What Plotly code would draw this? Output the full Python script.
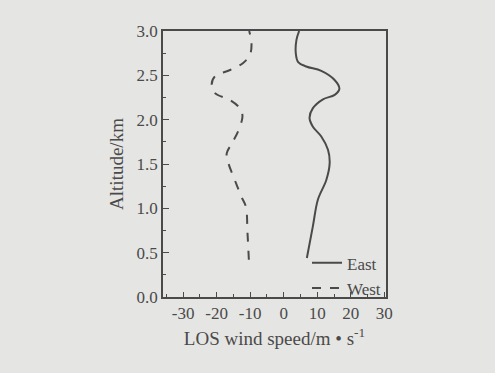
import plotly.graph_objects as go

# Data (altitude in km, LOS wind speed in m/s)
east_alt = [0.44, 0.80, 1.10, 1.32, 1.51, 1.66, 1.81, 1.92, 2.02, 2.13, 2.23, 2.28, 2.35, 2.45, 2.55, 2.60, 2.65, 2.75, 2.90, 3.00]
east_spd = [6.9, 8.7, 10.2, 12.7, 13.7, 13.2, 11.2, 8.7, 7.7, 8.7, 11.7, 15.2, 16.6, 15.1, 11.2, 6.7, 4.3, 3.6, 3.8, 4.6]

west_alt = [0.42, 0.72, 1.02, 1.13, 1.32, 1.51, 1.62, 1.73, 1.87, 2.04, 2.13, 2.22, 2.30, 2.39, 2.49, 2.56, 2.64, 2.73, 2.86, 3.00]
west_spd = [-10.4, -10.8, -11.3, -12.6, -14.6, -16.5, -17.0, -15.5, -13.6, -12.3, -13.1, -16.0, -20.5, -21.5, -20.5, -16.0, -12.1, -10.1, -9.6, -10.3]

x_ticks = [-30, -20, -10, 0, 10, 20, 30]
x_labels = ["-30", "-20", "-10", "0", "10", "20", "30"]
y_ticks = [0.0, 0.5, 1.0, 1.5, 2.0, 2.5, 3.0]
y_labels = ["0.0", "0.5", "1.0", "1.5", "2.0", "2.5", "3.0"]

ink = "#4a4a4a"
bg = "#e5e5e3"
fam = "Liberation Serif, Times New Roman, serif"
font = dict(family=fam, size=17, color=ink)

fig = go.Figure()
fig.add_trace(go.Scatter(x=east_spd, y=east_alt, mode="lines", name="East",
                         line=dict(color=ink, width=2, shape="spline", smoothing=1.0)))
fig.add_trace(go.Scatter(x=west_spd, y=west_alt, mode="lines", name="West",
                         line=dict(color=ink, width=2, dash="dash", shape="spline", smoothing=1.0)))

fig.update_layout(
    width=495, height=373,
    margin=dict(l=163, r=109, t=31, b=76),
    paper_bgcolor=bg, plot_bgcolor=bg,
    font=font,
    showlegend=True,
    legend=dict(x=1.0, y=-0.035, xanchor="right", yanchor="bottom",
                bgcolor="rgba(0,0,0,0)", borderwidth=0,
                font=dict(family=fam, size=17, color=ink),
                tracegroupgap=0, itemwidth=30),
    xaxis=dict(range=[-36, 30.5], tickvals=x_ticks, ticktext=x_labels, ticks="inside", ticklen=5,
               tickcolor=ink, showline=True, linecolor=ink, linewidth=1.5, mirror=True,
               showgrid=False, zeroline=False,
               tickfont=dict(family=fam, size=17, color=ink),
               minor=dict(dtick=5, tick0=0, ticks="inside", ticklen=3, tickcolor=ink),
               title=dict(text="LOS wind speed/m • s<sup>-1</sup>", standoff=10,
                          font=dict(family=fam, size=19, color=ink))),
    yaxis=dict(range=[0, 3], tickvals=y_ticks, ticktext=y_labels, ticks="inside", ticklen=6,
               tickcolor=ink, showline=True, linecolor=ink, linewidth=1.5, mirror=True,
               showgrid=False, zeroline=False,
               tickfont=dict(family=fam, size=17, color=ink),
               minor=dict(dtick=0.25, tick0=0, ticks="inside", ticklen=3, tickcolor=ink),
               title=dict(text="Altitude/km", standoff=8,
                          font=dict(family=fam, size=19, color=ink))),
)

fig.write_html("out.html")
